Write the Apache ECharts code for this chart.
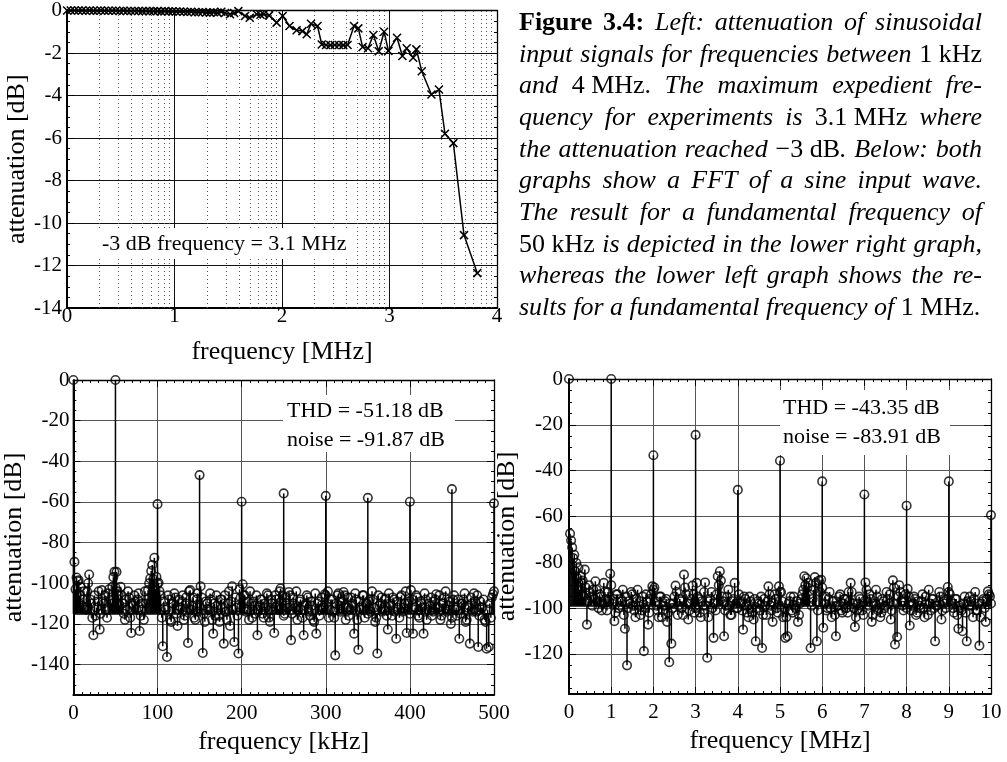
<!DOCTYPE html>
<html>
<head>
<meta charset="utf-8">
<title>Figure 3.4</title>
<script src="https://cdn.jsdelivr.net/npm/echarts@6.0.0/dist/echarts.min.js"></script>
<style>
  html, body { margin: 0; padding: 0; background: #fff; }
  #main { width: 1007px; height: 762px; }
</style>
</head>
<body>
<div id="main"></div>
<script>
// upper left: attenuation of sine input signals
var attFreqMHz = [0.001, 0.035, 0.07, 0.105, 0.14, 0.175, 0.21, 0.245, 0.28, 0.315,
  0.35, 0.385, 0.42, 0.455, 0.49, 0.525, 0.56, 0.595, 0.63, 0.665,
  0.70, 0.735, 0.77, 0.805, 0.84, 0.875, 0.91, 0.945, 0.98, 1.015,
  1.05, 1.085, 1.12, 1.155, 1.19, 1.225, 1.26, 1.295, 1.33, 1.365,
  1.40, 1.435, 1.47, 1.516, 1.555, 1.594, 1.656, 1.70, 1.765, 1.80,
  1.83, 1.88, 1.95, 2.006, 2.07, 2.136, 2.19, 2.23, 2.27, 2.33,
  2.37, 2.41, 2.45, 2.49, 2.53, 2.57, 2.61, 2.67, 2.71, 2.75,
  2.80, 2.85, 2.90, 2.95, 2.99, 3.07, 3.12, 3.16, 3.22, 3.25,
  3.30, 3.39, 3.46, 3.516, 3.594, 3.693, 3.817];
var attDb = [0, 0, 0, 0, 0, -0.01, 0, -0.01, -0.01, 0,
  -0.01, -0.01, -0.01, -0.01, -0.02, -0.01, -0.02, -0.02, -0.02, -0.02,
  -0.03, -0.02, -0.03, -0.03, -0.03, -0.04, -0.03, -0.04, -0.04, -0.05,
  -0.05, -0.06, -0.07, -0.06, -0.08, -0.08, -0.07, -0.09, -0.1, -0.08,
  -0.1, -0.06, -0.12, -0.18, -0.12, -0.03, -0.26, -0.34, -0.18, -0.2,
  -0.18, -0.23, -0.57, -0.26, -0.73, -0.93, -0.97, -1.12, -0.62, -0.73,
  -1.6, -1.62, -1.63, -1.62, -1.62, -1.63, -1.62, -0.73, -0.84, -1.72,
  -1.78, -1.15, -1.92, -1.0, -1.9, -1.28, -2.14, -1.78, -2.22, -1.83,
  -2.86, -3.95, -3.72, -5.8, -6.24, -10.57, -12.36];
var attNote = '-3 dB frequency = 3.1 MHz';

// lower left: FFT, 50 kHz fundamental
var leftPeakKHz = [0, 50, 100, 150, 200, 250, 300, 350, 400, 450, 500];
var leftPeakDb = [0, 0, -61.1, -46.8, -59.9, -55.8, -57, -58, -59.9, -53.7, -60.7];
var leftBinKHz = 2.5, leftBaseDb = -115;
var leftNoiseStartKHz = 1.25;
var leftNoiseDb = [
  -89.5, -97.2, -98.5, -101.8, -108, -112, -104, -95.7, -110, -125.6,
  -116, -109, -122.8, -103.4, -110, -113, -105, -108, -101.8, -94.4,
  -94.4, -106, -101.8, -110, -118, -113, -107, -124.5, -111, -109,
  -108, -123.5, -113, -118, -110, -103.4, -97.7, -91, -87.5, -96.9,
  -99.8, -106, -131, -112, -136.3, -108, -119, -110, -107, -121,
  -113, -109, -118, -107, -129.4, -103.4, -111, -117, -108, -114,
  -101.5, -134.3, -119, -110, -113, -108, -124.8, -116, -111, -119,
  -108, -129.7, -114, -110, -121, -101.5, -128.9, -112, -134.6, -107,
  -100.5, -106, -113, -118, -110, -109, -115, -125.6, -111, -108,
  -117, -112, -106, -119, -110, -124.5, -108, -113, -102.6, -106,
  -115, -110, -104.3, -128, -107, -112, -118, -109, -113, -125.6,
  -110, -107, -116, -111, -119, -124.8, -109, -113, -112, -105.4,
  -110, -117, -108, -114, -135.5, -106, -111, -109, -104.3, -118,
  -107, -113, -110, -124.8, -108, -132.7, -112, -106, -117, -110,
  -109, -114, -108, -119, -134.6, -111, -107, -113, -107.6, -122.8,
  -110, -116, -108, -127.3, -112, -106.8, -114, -110, -124.5, -109,
  -103.4, -124.8, -112, -107, -117, -110, -124.8, -108, -113, -111,
  -116, -109, -105.4, -112, -118, -110, -107, -114, -111, -120,
  -108, -113, -116, -127.3, -110, -108, -119, -112, -129.7, -110,
  -105, -114, -131.4, -109, -112, -118, -132.2, -131.4, -117, -105.4];
var leftNoise2StartKHz = 2.5;
var leftNoise2Db = [
  -103, -99, -106, -111, -104, -113, -100, -108, -117, -106,
  -112, -104, -115, -109, -106, -117, -103, -110, -97, -102,
  -104, -111, -106, -115, -108, -104, -117, -110, -106, -113,
  -105, -116, -110, -104, -108, -100, -94, -98, -103, -100,
  -104, -117, -109, -113, -106, -118, -110, -105, -115, -108,
  -112, -106, -116, -110, -104, -113, -107, -118, -105, -111,
  -107, -115, -109, -113, -105, -118, -110, -106, -116, -108,
  -112, -106, -118, -104, -109, -113, -107, -116, -103, -111,
  -106, -114, -109, -104, -117, -111, -106, -113, -108, -115,
  -110, -105, -117, -108, -113, -106, -111, -104, -109, -116,
  -107, -112, -106, -115, -110, -104, -113, -108, -117, -111,
  -106, -114, -109, -118, -105, -110, -116, -107, -112, -106,
  -104, -113, -108, -117, -110, -105, -114, -109, -106, -112,
  -116, -107, -111, -105, -118, -109, -113, -106, -110, -115,
  -108, -104, -112, -117, -106, -110, -114, -108, -116, -105,
  -111, -107, -114, -109, -117, -106, -112, -104, -110, -115,
  -108, -113, -106, -116, -109, -112, -105, -118, -110, -107,
  -114, -108, -112, -106, -116, -110, -104, -113, -109, -117,
  -106, -112, -108, -115, -110, -105, -118, -111, -107, -114,
  -109, -106, -116, -112, -108, -119, -113, -110, -107, -104];
var leftYTicks = [-140, -120, -100, -80, -60, -40, -20, 0];
var leftNote = ['THD = -51.18 dB', 'noise = -91.87 dB'];

// lower right: FFT, 1 MHz fundamental
var rightPeakMHz = [0, 1, 2, 3, 4, 5, 6, 7, 8, 9, 10];
var rightPeakDb = [0, 0, -33.3, -24.4, -48.4, -35.7, -44.7, -50.4, -55.3, -44.7, -59.4];
var rightBinMHz = 0.05, rightBaseDb = -99;
var rightNoiseStartMHz = 0.025;
var rightNoiseDb = [
  -67.5, -73.5, -76.7, -80.3, -82.5, -86, -88, -83.2, -107.2, -90,
  -95, -92, -88.3, -97, -94, -101, -89, -96, -93, -85,
  -98, -105.7, -94, -100, -96, -92, -109, -125, -97, -93,
  -99, -104, -92, -97, -101, -118.8, -94, -107.2, -96, -90.5,
  -91, -99, -104, -95, -101, -97, -106, -123.6, -115.5, -98,
  -90.2, -103, -96, -100, -85.4, -94, -105, -98, -90.2, -102,
  -89, -96, -104, -99, -88.8, -121.7, -97, -93, -113, -101,
  -86.1, -83.9, -95, -112.3, -99, -92, -103, -97, -89, -100,
  -94, -98, -109.4, -96, -102, -95, -100, -105, -114.5, -97,
  -101, -117.4, -96, -103, -90.5, -99, -106, -94, -100, -90.5,
  -93, -104, -113, -112.3, -97, -101, -95, -100, -106, -98,
  -94, -86.1, -87, -89, -117.4, -96, -86.5, -114.5, -88, -87.6,
  -108.6, -95, -100, -93, -104, -97, -112.3, -99, -94, -102,
  -96, -100, -93, -89, -98, -108.2, -101, -95, -99, -103,
  -88.8, -97, -94, -106, -99, -92, -101, -104, -96, -100,
  -93, -98, -105, -87.9, -115.9, -112.6, -90, -97, -101, -94,
  -91.6, -107.6, -99, -95, -103, -97, -100, -94, -104, -98,
  -92, -101, -96, -114.5, -99, -93, -105, -97, -100, -90.8,
  -94, -98, -102, -96, -109, -100, -110.1, -95, -114.5, -99,
  -97, -104, -93, -101, -116.4, -98, -96, -106, -92.7, -94.9];
var rightNoise2StartMHz = 0.05;
var rightNoise2Db = [
  -70.5, -78.2, -84, -87, -92, -89, -95, -91, -97, -93,
  -99, -96, -92, -100, -95, -98, -93, -101, -97, -90,
  -96, -102, -94, -99, -97, -103, -95, -100, -98, -94,
  -101, -96, -99, -103, -95, -100, -97, -102, -94, -92,
  -97, -101, -95, -104, -99, -96, -102, -98, -100, -95,
  -93, -99, -97, -103, -91, -98, -101, -96, -94, -100,
  -95, -102, -97, -93, -99, -104, -96, -100, -98, -94,
  -90, -88, -97, -101, -95, -99, -103, -96, -98, -100,
  -97, -101, -95, -99, -104, -97, -102, -96, -100, -98,
  -95, -103, -99, -97, -94, -101, -98, -96, -102, -93,
  -97, -100, -104, -98, -95, -102, -99, -97, -103, -96,
  -92, -90, -91, -94, -99, -92, -89, -101, -93, -91,
  -98, -101, -96, -100, -97, -103, -99, -95, -101, -98,
  -96, -102, -97, -93, -100, -104, -98, -96, -101, -97,
  -92, -99, -96, -103, -98, -95, -100, -102, -97, -99,
  -96, -94, -101, -91, -98, -95, -93, -99, -97, -100,
  -95, -101, -98, -96, -102, -99, -97, -100, -95, -103,
  -98, -96, -100, -99, -97, -95, -101, -98, -96, -93,
  -97, -100, -96, -103, -99, -101, -98, -102, -97, -95,
  -99, -96, -101, -98, -104, -97, -100, -96, -94, -98];
var rightYTicks = [-120, -100, -80, -60, -40, -20, 0];
var rightNote = ['THD = -43.35 dB', 'noise = -83.91 dB'];

var captionLines = [
  [['b', 'Figure 3.4:'], ['i', ' Left:  attenuation of sinusoidal']],
  [['i', 'input signals for frequencies between '], ['r', '1\u00a0kHz']],
  [['i', 'and '], ['r', '4\u00a0MHz.'], ['i', '  The maximum expedient fre-']],
  [['i', 'quency for experiments is '], ['r', '3.1\u00a0MHz'], ['i', ' where']],
  [['i', 'the attenuation reached '], ['r', '\u22123\u00a0dB'], ['i', '. Below: both']],
  [['i', 'graphs show a FFT of a sine input wave.']],
  [['i', 'The result for a fundamental frequency of']],
  [['r', '50\u00a0kHz'], ['i', ' is depicted in the lower right graph,']],
  [['i', 'whereas the lower left graph shows the re-']],
  [['i', 'sults for a fundamental frequency of '], ['r', '1\u00a0MHz.']]
];

var FONT = 'Liberation Serif';
var TICK_SIZE = 21, NAME_SIZE = 26, NOTE_SIZE = 22, CAP_SIZE = 26;

function stepValues(from, to, step) {
  var out = [];
  for (var v = from; v <= to + 1e-9; v += step) out.push(Math.round(v * 1000) / 1000);
  return out;
}

function binData(start, step, values) {
  return values.map(function (v, i) { return [start + i * step, v]; });
}

function peakData(xs, ys) {
  return xs.map(function (x, i) { return [x, ys[i]]; });
}

var textBase = { fontFamily: FONT, color: '#000' };

function mainX(o) {
  return {
    type: 'value', gridIndex: o.grid, position: 'bottom',
    min: o.min, max: o.max, interval: o.interval,
    name: o.name, nameLocation: 'middle', nameGap: o.nameGap,
    nameTextStyle: { fontFamily: FONT, fontSize: NAME_SIZE, color: '#000' },
    axisLine: { show: true, onZero: false, lineStyle: { color: '#000', width: 2 } },
    axisTick: { show: true, inside: true, length: 7, lineStyle: { color: '#000', width: 1 } },
    minorTick: { show: !!o.minor, splitNumber: o.minor || 5, length: 3, lineStyle: { color: '#000', width: 1 } },
    axisLabel: { margin: o.labelMargin, fontFamily: FONT, fontSize: TICK_SIZE, color: '#000',
      showMinLabel: true, showMaxLabel: true },
    splitLine: { show: true, lineStyle: { color: o.splitColor, width: 1 } }
  };
}

function frameX(o) {
  return {
    type: 'value', gridIndex: o.grid, position: 'top',
    min: o.min, max: o.max, interval: o.interval,
    axisLine: { show: true, onZero: false, lineStyle: { color: '#000', width: 1.3 } },
    axisTick: { show: true, inside: true, length: 7, lineStyle: { color: '#000', width: 1 } },
    minorTick: { show: !!o.minor, splitNumber: o.minor || 5, length: 3, lineStyle: { color: '#000', width: 1 } },
    axisLabel: { show: false },
    splitLine: { show: false }
  };
}

function mainY(o) {
  var ax = {
    type: 'value', gridIndex: o.grid, position: 'left',
    min: o.min, max: o.max,
    name: o.name, nameLocation: 'middle', nameGap: o.nameGap, nameRotate: 90,
    nameTextStyle: { fontFamily: FONT, fontSize: NAME_SIZE, color: '#000' },
    axisLine: { show: true, onZero: false, lineStyle: { color: '#000', width: 2 } },
    axisTick: { show: true, inside: true, length: 7, lineStyle: { color: '#000', width: 1 } },
    minorTick: { show: !!o.minor, splitNumber: o.minor || 5, length: 3, lineStyle: { color: '#000', width: 1 } },
    axisLabel: { margin: o.labelMargin, fontFamily: FONT, fontSize: TICK_SIZE, color: '#000',
      showMinLabel: true, showMaxLabel: true },
    splitLine: { show: true, lineStyle: { color: o.splitColor, width: 1 } }
  };
  if (o.interval) ax.interval = o.interval;
  if (o.ticks) {
    ax.axisTick.customValues = o.ticks;
    ax.axisLabel.customValues = o.ticks;
  }
  return ax;
}

function frameY(o) {
  var ax = {
    type: 'value', gridIndex: o.grid, position: o.side || 'right',
    min: o.min, max: o.max,
    axisLine: { show: o.line !== false, onZero: false, lineStyle: { color: '#000', width: 1.3 } },
    axisTick: { show: true, inside: true, length: o.tickLen || 7, lineStyle: { color: '#000', width: 1 } },
    minorTick: { show: !!o.minor, splitNumber: o.minor || 5, length: 3, lineStyle: { color: '#000', width: 1 } },
    axisLabel: { show: false },
    splitLine: { show: false }
  };
  if (o.interval) ax.interval = o.interval;
  if (o.ticks) ax.axisTick.customValues = o.ticks;
  return ax;
}

function stemRender(base) {
  return function (params, api) {
    var p = api.coord([api.value(0), api.value(1)]);
    var b = api.coord([api.value(0), base]);
    return {
      type: 'line',
      shape: { x1: p[0], y1: p[1], x2: b[0], y2: b[1] },
      style: { stroke: '#000', lineWidth: 1.5 }
    };
  };
}

function stemSeries(xi, yi, data, base) {
  return [{
    type: 'custom', xAxisIndex: xi, yAxisIndex: yi, data: data, clip: false,
    renderItem: stemRender(base), silent: true, z: 3
  }, {
    type: 'scatter', xAxisIndex: xi, yAxisIndex: yi, data: data, clip: false,
    symbol: 'circle', symbolSize: 8.5, silent: true, z: 4, large: false,
    itemStyle: { color: 'rgba(0,0,0,0)', borderColor: '#000', borderWidth: 1.6 },
    markLine: {
      silent: true, symbol: ['none', 'none'], label: { show: false },
      lineStyle: { color: '#000', width: 1.5, type: 'solid' },
      data: [{ yAxis: base }]
    }
  }];
}

// log-spaced dotted minor grid of the attenuation plot
var logMinor = [];
for (var k = 0; k < 4; k++) {
  for (var m = 2; m <= 9; m++) logMinor.push({ xAxis: k + Math.log10(m) });
}

// caption, justified word by word
var measureCtx = document.createElement('canvas').getContext('2d');
function capFont(style) {
  return (style === 'i' ? 'italic ' : '') + (style === 'b' ? 'bold ' : '') + CAP_SIZE + 'px "' + FONT + '"';
}
function captionGraphics(x0, width, y0, lineStep) {
  var out = [];
  captionLines.forEach(function (line, li) {
    var words = [[]];
    line.forEach(function (seg) {
      seg[1].split(' ').forEach(function (p, j) {
        if (j > 0) words.push([]);
        if (p) words[words.length - 1].push([seg[0], p]);
      });
    });
    words = words.filter(function (w) { return w.length; });
    var widths = words.map(function (w) {
      return w.reduce(function (s, piece) {
        measureCtx.font = capFont(piece[0]);
        return s + measureCtx.measureText(piece[1]).width;
      }, 0);
    });
    var total = widths.reduce(function (a, b) { return a + b; }, 0);
    measureCtx.font = capFont('i');
    var gap = measureCtx.measureText(' ').width;
    if (li < captionLines.length - 1 && words.length > 1) gap = (width - total) / (words.length - 1);
    var x = x0;
    words.forEach(function (w, wi) {
      out.push({
        type: 'text', x: x, y: y0 + li * lineStep, silent: true,
        style: {
          text: w.map(function (piece) { return '{' + piece[0] + '|' + piece[1] + '}'; }).join(''),
          verticalAlign: 'middle', align: 'left',
          rich: {
            b: { fontFamily: FONT, fontSize: CAP_SIZE, fontWeight: 'bold', fill: '#000' },
            i: { fontFamily: FONT, fontSize: CAP_SIZE, fontStyle: 'italic', fill: '#000' },
            r: { fontFamily: FONT, fontSize: CAP_SIZE, fill: '#000' }
          }
        }
      });
      x += widths[wi] + gap;
    });
  });
  return out;
}

function noteBox(x, y, w, h, lines, tx, ty, step) {
  var g = [{ type: 'rect', shape: { x: x, y: y, width: w, height: h }, style: { fill: '#fff' }, silent: true, z: 10 }];
  lines.forEach(function (t, i) {
    g.push({ type: 'text', x: tx, y: ty + i * step, silent: true, z: 11,
      style: { text: t, fontFamily: FONT, fontSize: NOTE_SIZE, fill: '#000', verticalAlign: 'middle' } });
  });
  return g;
}

var leftStems = binData(leftNoiseStartKHz, leftBinKHz, leftNoiseDb)
  .concat(binData(leftNoise2StartKHz, leftBinKHz, leftNoise2Db))
  .concat(peakData(leftPeakKHz, leftPeakDb));
var rightStems = binData(rightNoiseStartMHz, rightBinMHz, rightNoiseDb)
  .concat(binData(rightNoise2StartMHz, rightBinMHz, rightNoise2Db))
  .concat(peakData(rightPeakMHz, rightPeakDb));

var chart = echarts.init(document.getElementById('main'), null, { renderer: 'canvas' });

var option = {
  animation: false,
  backgroundColor: '#fff',
  textStyle: textBase,
  grid: [
    { left: 67, top: 9, width: 430, height: 299 },
    { left: 72, top: 380, width: 422, height: 315 },
    { left: 569, top: 379, width: 422, height: 315 }
  ],
  xAxis: [
    mainX({ grid: 0, min: 0, max: 4, interval: 1, name: 'frequency [MHz]', nameGap: 31, labelMargin: -2, splitColor: '#111' }),
    frameX({ grid: 0, min: 0, max: 4, interval: 1 }),
    mainX({ grid: 1, min: 0, max: 500, interval: 100, name: 'frequency [kHz]', nameGap: 34, labelMargin: 8, splitColor: '#555', minor: 10 }),
    frameX({ grid: 1, min: 0, max: 500, interval: 100, minor: 10 }),
    mainX({ grid: 2, min: 0, max: 10, interval: 1, name: 'frequency [MHz]', nameGap: 34, labelMargin: 8, splitColor: '#555', minor: 5 }),
    frameX({ grid: 2, min: 0, max: 10, interval: 1, minor: 5 })
  ],
  yAxis: [
    mainY({ grid: 0, min: -14, max: 0, interval: 2, name: 'attenuation [dB]', nameGap: 32, labelMargin: 5, splitColor: '#111', minor: 4 }),
    frameY({ grid: 0, min: -14, max: 0, interval: 2, minor: 4 }),
    mainY({ grid: 1, min: -155, max: 0, ticks: leftYTicks, name: 'attenuation [dB]', nameGap: 37, labelMargin: 4, splitColor: '#555' }),
    frameY({ grid: 1, min: -155, max: 0, ticks: leftYTicks }),
    frameY({ grid: 1, side: 'left', line: false, tickLen: 3, min: -155, max: 0, ticks: stepValues(-155, 0, 5) }),
    frameY({ grid: 1, side: 'right', line: false, tickLen: 3, min: -155, max: 0, ticks: stepValues(-155, 0, 5) }),
    mainY({ grid: 2, min: -137.5, max: 0, ticks: rightYTicks, name: 'attenuation [dB]', nameGap: 38, labelMargin: 6, splitColor: '#555' }),
    frameY({ grid: 2, min: -137.5, max: 0, ticks: rightYTicks }),
    frameY({ grid: 2, side: 'left', line: false, tickLen: 3, min: -137.5, max: 0, ticks: stepValues(-135, 0, 5) }),
    frameY({ grid: 2, side: 'right', line: false, tickLen: 3, min: -137.5, max: 0, ticks: stepValues(-135, 0, 5) })
  ],
  series: [{
    type: 'line', xAxisIndex: 0, yAxisIndex: 0,
    data: attFreqMHz.map(function (f, i) { return [f, attDb[i]]; }),
    symbol: 'path://M0,0L10,10M10,0L0,10', symbolSize: 8, showAllSymbol: true,
    lineStyle: { color: '#000', width: 1.5 },
    itemStyle: { color: '#000', borderColor: '#000', borderWidth: 1.5 },
    silent: true, z: 5, clip: false,
    markLine: {
      silent: true, symbol: ['none', 'none'], label: { show: false },
      lineStyle: { color: '#555', width: 1, type: [1, 3] },
      data: logMinor
    }
  }].concat(
    stemSeries(2, 2, leftStems, leftBaseDb),
    stemSeries(4, 6, rightStems, rightBaseDb)
  ),
  graphic: [].concat(
    captionGraphics(519, 463, 23, 31.7),
    noteBox(98, 228, 252, 31, [attNote], 102, 244, 0),
    noteBox(283, 395, 172, 57, leftNote, 287, 411, 29),
    noteBox(780, 390, 170, 65, rightNote, 783, 408, 29)
  )
};

chart.setOption(option);
window.addEventListener('resize', function () { chart.resize(); });
</script>
</body>
</html>
